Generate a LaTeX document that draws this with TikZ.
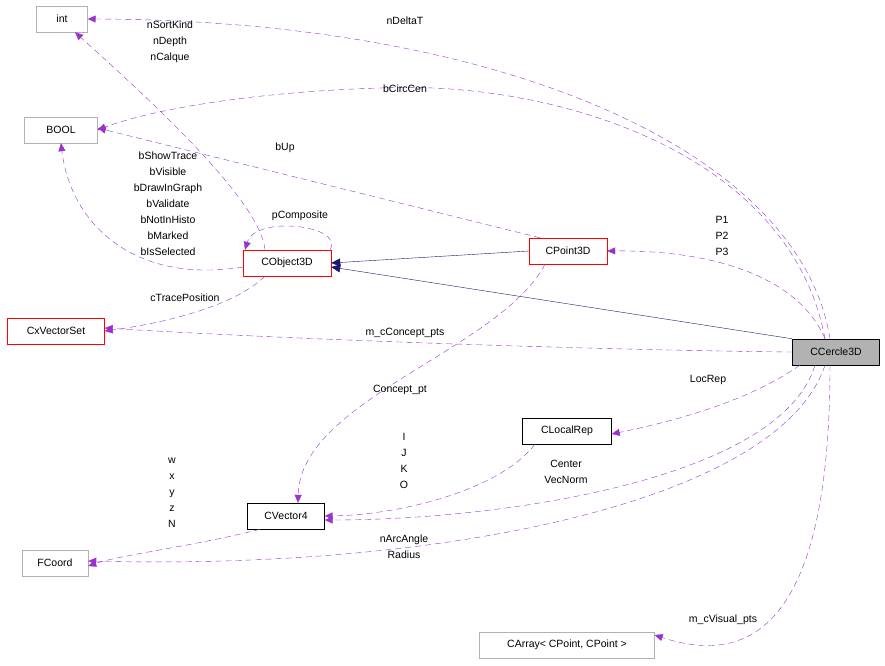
\documentclass[tikz,border=0pt]{standalone}
\usepackage{fontspec}
\setmainfont{Liberation Sans}
\usetikzlibrary{arrows.meta,positioning}
\definecolor{edgepurple}{HTML}{9A32CD}
\definecolor{inhnavy}{HTML}{191970}
\tikzset{
  cls/.style={draw=#1,rectangle,minimum height=26pt,inner xsep=6pt,font=\fontsize{10.5}{12}\selectfont},
  uses/.style={draw=edgepurple,dashed,dash pattern=on 6pt off 4pt,-{Triangle[length=8pt,width=7pt]}},
  inh/.style={draw=inhnavy,-{Triangle[length=9pt,width=8pt]}},
  lbl/.style={font=\fontsize{10.5}{16}\selectfont,align=center,inner sep=0pt}
}
\begin{document}
\begin{tikzpicture}[x=1pt,y=-1pt]
  \useasboundingbox (0,0) rectangle (885,665);
  % classes
  \node[cls=gray!60,minimum width=51pt] (int) at (62,19) {int};
  \node[cls=gray!60,minimum width=73pt] (bool) at (61,130) {BOOL};
  \node[cls=red,minimum width=97pt] (vset) at (56,331) {CxVectorSet};
  \node[cls=gray!60,minimum width=66pt] (fcoord) at (55,563) {FCoord};
  \node[cls=red,minimum width=88pt] (obj) at (287,263) {CObject3D};
  \node[cls=red,minimum width=78pt] (pt) at (568,251) {CPoint3D};
  \node[cls=black,fill=gray!60,minimum width=87pt] (cercle) at (836,352) {CCercle3D};
  \node[cls=black,minimum width=89pt] (locrep) at (567,431) {CLocalRep};
  \node[cls=black,minimum width=77pt] (vec) at (286,516) {CVector4};
  \node[cls=gray!60,minimum width=175pt] (carray) at (567,645) {CArray< CPoint, CPoint >};
  % inheritance
  \draw[inh] (pt.west) -- (obj.east);
  \draw[inh] (cercle.north west) -- ([yshift=-4pt]obj.east);
  % usage
  \draw[uses] ([xshift=-6pt]cercle.north) .. controls (800,150) and (500,20) .. (int.east);
  \draw[uses] ([xshift=-11pt]cercle.north) .. controls (790,150) and (550,80) .. (380,88)
    .. controls (250,92) and (150,110) .. (bool.east);
  \draw[uses] ([xshift=-28pt]pt.north) -- ([yshift=2pt]bool.east);
  \draw[uses] ([yshift=-4pt]obj.west) .. controls (130,285) and (70,220) .. (bool.south);
  \draw[uses] ([xshift=-22pt]obj.north) .. controls (260,200) and (150,100) .. ([xshift=13pt]int.south);
  \draw[uses] ([xshift=43pt]obj.north) .. controls (345,225) and (255,215) .. ([xshift=-42pt]obj.north);
  \draw[uses] ([xshift=-22pt]obj.south) .. controls (230,310) and (150,325) .. (vset.east);
  \draw[uses] (cercle.west) .. controls (600,350) and (300,340) .. ([yshift=3pt]vset.east);
  \draw[uses] ([xshift=-11pt]cercle.north) .. controls (800,280) and (720,250) .. (pt.east);
  \draw[uses] ([xshift=-36pt]cercle.south) .. controls (750,400) and (680,420) .. ([yshift=-3pt]locrep.east);
  \draw[uses] ([xshift=-23pt]pt.south) .. controls (500,350) and (300,400) .. ([xshift=12pt]vec.north);
  \draw[uses] ([xshift=-32pt]locrep.south) .. controls (500,490) and (400,515) .. (vec.east);
  \draw[uses] ([xshift=-21pt]cercle.south) .. controls (780,480) and (500,520) .. ([yshift=-4pt]vec.east);
  \draw[uses] ([xshift=-26pt]vec.south) .. controls (200,545) and (120,555) .. ([yshift=-3pt]fcoord.east);
  \draw[uses] ([xshift=-11pt]cercle.south) .. controls (780,500) and (450,570) .. ([yshift=2pt]fcoord.east);
  \draw[uses] ([xshift=-6pt]cercle.south) .. controls (830,550) and (790,680) .. ([yshift=10pt]carray.east);
  % labels
  \node[lbl] (l-ndeltat) at (405,21) {nDeltaT};
  \node[lbl] (l-bcirc) at (405,89) {bCircCen};
  \node[lbl] (l-bup) at (285,148) {bUp};
  \node[lbl] (l-nsort) at (170,42) {nSortKind\\nDepth\\nCalque};
  \node[lbl] (l-bshow) at (168,204) {bShowTrace\\bVisible\\bDrawInGraph\\bValidate\\bNotInHisto\\bMarked\\bIsSelected};
  \node[lbl] (l-pcomp) at (300,216) {pComposite};
  \node[lbl] (l-ctrace) at (185,298) {cTracePosition};
  \node[lbl] (l-mconc) at (405,333) {m\_cConcept\_pts};
  \node[lbl] (l-p123) at (722,236) {P1\\P2\\P3};
  \node[lbl] (l-locrep) at (708,380) {LocRep};
  \node[lbl] (l-concpt) at (400,390) {Concept\_pt};
  \node[lbl] (l-ijko) at (404,461) {I\\J\\K\\O};
  \node[lbl] (l-center) at (566,472) {Center\\VecNorm};
  \node[lbl] (l-wxyz) at (172,493) {w\\x\\y\\z\\N};
  \node[lbl] (l-narc) at (404,547) {nArcAngle\\Radius};
  \node[lbl] (l-mvis) at (723,620) {m\_cVisual\_pts};
\end{tikzpicture}
\end{document}
